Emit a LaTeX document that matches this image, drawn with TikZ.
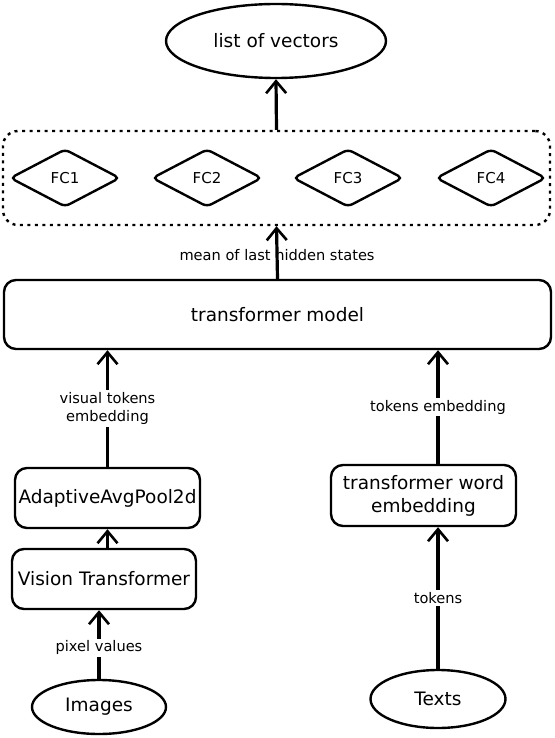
\documentclass[tikz,border=0pt]{standalone}
\usepackage{fontspec}
\setmainfont{DejaVu Sans}
\usetikzlibrary{shapes.geometric,arrows.meta}
\begin{document}
\begin{tikzpicture}[x=1pt,y=-1pt,
  box/.style={draw, line width=2.4pt, rounded corners=12pt, inner sep=0pt, align=center, font=\fontsize{18.5}{23}\selectfont},
  oval/.style={draw, ellipse, line width=2.4pt, inner sep=0pt, font=\fontsize{18.5}{23}\selectfont},
  fcnode/.style={draw, diamond, line width=2.4pt, rounded corners=5pt, inner sep=0pt, minimum width=110pt, minimum height=58pt, font=\fontsize{15}{18}\selectfont},
  lbl/.style={fill=white, inner sep=2pt, align=center, font=\fontsize{14.6}{18}\selectfont},
  arr/.style={line width=3.2pt, -{Straight Barb[length=12pt,width=20pt,line width=2.6pt]}}
]
\useasboundingbox (0,0) rectangle (554,738);

\node[oval, minimum width=220pt, minimum height=74pt] (lov) at (276,41) {list of vectors};

\node[draw, line width=2.4pt, dash pattern=on 3pt off 4.5pt, rounded corners=15pt, minimum width=547pt, minimum height=94pt, inner sep=0pt] (fcbox) at (276.5,178) {};
\node[fcnode] (fc1) at (65,178) {FC1};
\node[fcnode] (fc2) at (207,178) {FC2};
\node[fcnode] (fc3) at (348,178) {FC3};
\node[fcnode] (fc4) at (491,178) {FC4};

\node[box, minimum width=547pt, minimum height=69pt] (tm) at (277.5,314.5) {transformer model};

\node[box, minimum width=185pt, minimum height=60pt] (aap) at (107.5,498) {AdaptiveAvgPool2d};
\node[box, minimum width=184pt, minimum height=60pt] (vt) at (104,579) {Vision Transformer};
\node[box, minimum width=185pt, minimum height=61pt] (twe) at (423.5,495.5) {transformer word\\embedding};

\node[oval, minimum width=134pt, minimum height=54pt] (img) at (99,707) {Images};
\node[oval, minimum width=135pt, minimum height=58pt] (txt) at (438,699) {Texts};

% arrows
\draw[arr] (fcbox.north) -- (lov.south);
\draw[arr] (tm.north) -- (fcbox.south)
  node[pos=0.45, font=\fontsize{14.6}{18}\selectfont, inner sep=1pt] {mean of last hidden states};
\draw[arr] (aap.north) -- (aap.north |- tm.south)
  node[lbl, pos=0.5] {visual tokens\\embedding};
\draw[arr] (aap.south |- vt.north) -- (aap.south);
\draw[arr] (img.north) -- (img.north |- vt.south)
  node[lbl, pos=0.45] {pixel values};
\draw[arr] (twe.north -| txt) -- (tm.south -| txt)
  node[lbl, pos=0.5] {tokens embedding};
\draw[arr] (txt.north) -- (txt.north |- twe.south)
  node[lbl, pos=0.5] {tokens};
\end{tikzpicture}
\end{document}
